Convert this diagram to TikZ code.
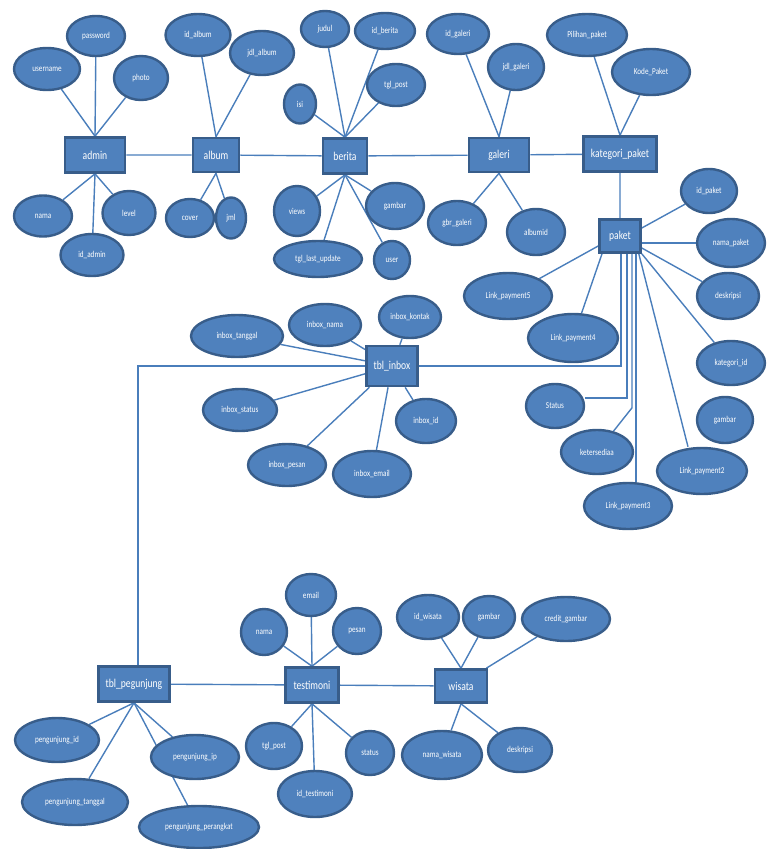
\documentclass[tikz,border=0pt]{standalone}
\usepackage{fontspec}
\newfontfamily\erfont[FakeStretch=0.8]{Carlito}
\usetikzlibrary{shapes.geometric,backgrounds}
\definecolor{erfill}{HTML}{4F81BD}
\definecolor{erline}{HTML}{385D8A}
\definecolor{erlink}{HTML}{4A7EBB}

\begin{document}
\begin{tikzpicture}[x=1pt,y=-1pt,
  entity/.style={rectangle, draw=erline, fill=erfill, line width=2.6pt, text=white, inner sep=0pt, font=\erfont\fontsize{12}{14}\selectfont},
  attr/.style={ellipse, draw=erline, fill=erfill, line width=2.4pt, text=white, inner sep=0pt, font=\erfont\fontsize{9}{10}\selectfont},
  sz/.style 2 args={minimum width=#1, minimum height=#2},
  link/.style={draw=erlink, line width=1.4pt}]
\useasboundingbox (0,0) rectangle (767,849);
% entitas
\node[entity, sz={60}{35}] (admin) at (95,155) {admin};
\node[entity, sz={46}{34}] (album) at (216,155) {album};
\node[entity, sz={44}{35}] (berita) at (345,156) {berita};
\node[entity, sz={60}{34}] (galeri) at (499,155) {galeri};
\node[entity, sz={73}{35}] (kategori) at (620,154) {kategori\_paket};
\node[entity, sz={41}{33}] (paket) at (620,236) {paket};
\node[entity, sz={51}{40}] (inbox) at (392,366) {tbl\_inbox};
\node[entity, sz={71}{35}] (pegunjung) at (134,684) {tbl\_pegunjung};
\node[entity, sz={53}{35}] (testimoni) at (312,685) {testimoni};
\node[entity, sz={52}{33}] (wisata) at (461,686) {wisata};
% admin
\node[attr, sz={58}{40}] (password) at (96,36) {password};
\node[attr, sz={66}{42}] (username) at (47,69) {username};
\node[attr, sz={54}{44}] (photo) at (141,78) {photo};
\node[attr, sz={58}{41}] (nama) at (43,216) {nama};
\node[attr, sz={53}{44}] (level) at (129,213) {level};
\node[attr, sz={63}{42}] (idadmin) at (92,255) {id\_admin};
% album
\node[attr, sz={65}{42}] (idalbum) at (198,35) {id\_album};
\node[attr, sz={64}{44}] (jdlalbum) at (262,53) {jdl\_album};
\node[attr, sz={48}{38}] (cover) at (190,218) {cover};
\node[attr, sz={30}{41}] (jml) at (231,218) {jml};
% berita
\node[attr, sz={48}{36}] (judul) at (325,29) {judul};
\node[attr, sz={60}{36}] (idberita) at (385,31) {id\_berita};
\node[attr, sz={58}{42}] (tglpost) at (396,85) {tgl\_post};
\node[attr, sz={32}{39}] (isi) at (300,104) {isi};
\node[attr, sz={46}{50}] (views) at (297,211) {views};
\node[attr, sz={58}{46}] (gbrberita) at (395,206) {gambar};
\node[attr, sz={88}{36}] (tgllast) at (318,259) {tgl\_last\_update};
\node[attr, sz={36}{38}] (user) at (392,260) {user};
% galeri
\node[attr, sz={62}{40}] (idgaleri) at (458,34) {id\_galeri};
\node[attr, sz={56}{46}] (jdlgaleri) at (516,67) {jdl\_galeri};
\node[attr, sz={58}{44}] (gbrgaleri) at (457,223) {gbr\_galeri};
\node[attr, sz={58}{46}] (albumid) at (536,232) {albumid};
% kategori_paket
\node[attr, sz={80}{42}] (pilihan) at (587,35) {Pilihan\_paket};
\node[attr, sz={78}{46}] (kode) at (651,72) {Kode\_Paket};
% paket
\node[attr, sz={56}{44}] (idpaket) at (709,191) {id\_paket};
\node[attr, sz={68}{48}] (namapaket) at (731,243) {nama\_paket};
\node[attr, sz={62}{46}] (deskpaket) at (728,296) {deskripsi};
\node[attr, sz={68}{44}] (katid) at (731,363) {kategori\_id};
\node[attr, sz={56}{46}] (gbrpaket) at (725,420) {gambar};
\node[attr, sz={90}{46}] (lpay2) at (702,471) {Link\_payment2};
\node[attr, sz={88}{46}] (lpay3) at (628,506) {Link\_payment3};
\node[attr, sz={72}{44}] (sedia) at (597,452) {ketersediaa};
\node[attr, sz={58}{44}] (status) at (555,406) {Status};
\node[attr, sz={90}{48}] (lpay4) at (573,338) {Link\_payment4};
\node[attr, sz={88}{46}] (lpay5) at (508,296) {Link\_payment5};
% tbl_inbox
\node[attr, sz={92}{42}] (itanggal) at (237,336) {inbox\_tanggal};
\node[attr, sz={72}{42}] (inama) at (325,325) {inbox\_nama};
\node[attr, sz={62}{42}] (ikontak) at (410,317) {inbox\_kontak};
\node[attr, sz={74}{42}] (istatus) at (240,410) {inbox\_status};
\node[attr, sz={60}{44}] (iid) at (426,421) {inbox\_id};
\node[attr, sz={78}{42}] (ipesan) at (287,465) {inbox\_pesan};
\node[attr, sz={78}{46}] (iemail) at (372,474) {inbox\_email};
% tbl_pegunjung
\node[attr, sz={84}{44}] (pid) at (57,740) {pengunjung\_id};
\node[attr, sz={88}{44}] (pip) at (195,757) {pengunjung\_ip};
\node[attr, sz={106}{46}] (ptanggal) at (75,802) {pengunjung\_tanggal};
\node[attr, sz={120}{42}] (pperangkat) at (199,827) {pengunjung\_perangkat};
% testimoni
\node[attr, sz={50}{42}] (temail) at (311,595) {email};
\node[attr, sz={46}{46}] (tnama) at (264,632) {nama};
\node[attr, sz={48}{46}] (tpesan) at (357,631) {pesan};
\node[attr, sz={56}{46}] (ttgl) at (274,746) {tgl\_post};
\node[attr, sz={48}{44}] (tstatus) at (370,753) {status};
\node[attr, sz={74}{46}] (tid) at (315,794) {id\_testimoni};
% wisata
\node[attr, sz={62}{44}] (idwisata) at (428,617) {id\_wisata};
\node[attr, sz={52}{42}] (gbrwisata) at (489,617) {gambar};
\node[attr, sz={88}{44}] (credit) at (566,619) {credit\_gambar};
\node[attr, sz={80}{48}] (namawisata) at (442,755) {nama\_wisata};
\node[attr, sz={64}{44}] (deskwisata) at (520,750) {deskripsi};

\begin{scope}[on background layer]
\draw[link] (admin) -- (album) -- (berita) -- (galeri) -- (kategori) -- (paket);
\draw[link] (admin.north) -- (username); \draw[link] (admin.north) -- (password); \draw[link] (admin.north) -- (photo);
\draw[link] (admin.south) -- (nama); \draw[link] (admin.south) -- (level); \draw[link] (admin.south) -- (idadmin);
\draw[link] (album.north) -- (idalbum); \draw[link] (album.north) -- (jdlalbum);
\draw[link] (album.south) -- (cover); \draw[link] (album.south) -- (jml);
\draw[link] (berita.north) -- (isi); \draw[link] (berita.north) -- (judul);
\draw[link] (berita.north) -- (idberita); \draw[link] (berita.north) -- (tglpost);
\draw[link] (berita.south) -- (views); \draw[link] (berita.south) -- (gbrberita);
\draw[link] (berita.south) -- (tgllast); \draw[link] (berita.south) -- (user);
\draw[link] (galeri.north) -- (idgaleri); \draw[link] (galeri.north) -- (jdlgaleri);
\draw[link] (galeri.south) -- (gbrgaleri); \draw[link] (galeri.south) -- (albumid);
\draw[link] (kategori.north) -- (pilihan); \draw[link] (kategori.north) -- (kode);
\draw[link] ([yshift=8]paket.east) -- (idpaket);
\draw[link] (paket.east |- namapaket.west) -- (namapaket.west);
\draw[link] ([yshift=-12]paket.east) -- (deskpaket);
\draw[link] (paket.south east) -- (katid);
\draw[link] ([xshift=-3]paket.south east) -- ([xshift=-14]lpay2.north);
\draw[link] ([yshift=-10]paket.west) -- (lpay5);
\draw[link] ([xshift=-18]paket.south) -- (lpay4);
\draw[link] ([xshift=1]paket.south) |- (inbox.east);
\draw[link] ([xshift=7]paket.south) |- ([yshift=8]status.east);
\draw[link] ([xshift=12]paket.south) -- ++(0,154) -- (sedia);
\coordinate (p3) at ([xshift=16]paket.south);
\draw[link] (p3) -- (p3 |- lpay3.north);
\draw[link] (inbox) -- (itanggal); \draw[link] (inbox) -- (inama); \draw[link] (inbox) -- (ikontak);
\draw[link] (inbox) -- (istatus); \draw[link] (inbox) -- (iid);
\draw[link] (inbox) -- (ipesan); \draw[link] (inbox) -- (iemail);
\draw[link] (inbox.west) -| ([xshift=4]pegunjung.north);
\draw[link] (pegunjung) -- (testimoni) -- (wisata);
\draw[link] (pegunjung.south) -- (pid); \draw[link] (pegunjung.south) -- (pip);
\draw[link] (pegunjung.south) -- (ptanggal); \draw[link] (pegunjung.south) -- (pperangkat);
\draw[link] (testimoni.north) -- (tnama); \draw[link] (testimoni.north) -- (temail); \draw[link] (testimoni.north) -- (tpesan);
\draw[link] (testimoni.south) -- (ttgl); \draw[link] (testimoni.south) -- (tid); \draw[link] (testimoni.south) -- (tstatus);
\draw[link] (wisata.north) -- (idwisata); \draw[link] (wisata.north) -- (gbrwisata);
\draw[link] ([xshift=-2]wisata.north east) -- (credit);
\draw[link] (wisata.south) -- (namawisata); \draw[link] (wisata.south) -- (deskwisata);
\end{scope}
\end{tikzpicture}
\end{document}
